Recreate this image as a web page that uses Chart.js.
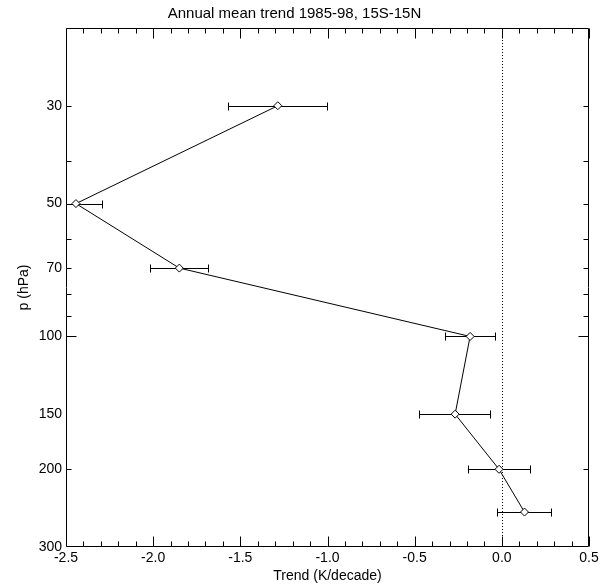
<!DOCTYPE html>
<html>
<head>
<meta charset="utf-8">
<script src="https://cdn.jsdelivr.net/npm/chart.js@4/dist/chart.umd.min.js"></script>
<style>
  html, body { margin: 0; padding: 0; background: #ffffff; }
  #wrap { width: 607px; height: 584px; }
</style>
</head>
<body>
<div id="wrap"><canvas id="c" width="607" height="584"></canvas></div>
<script>
const pressure = [30, 50, 70, 100, 150, 200, 250];
const trend = [-1.285, -2.443, -1.850, -0.182, -0.268, -0.016, 0.130];
const errLow = [-1.571, -2.600, -2.016, -0.326, -0.475, -0.195, -0.026];
const errHigh = [-1.001, -2.292, -1.684, -0.037, -0.066, 0.164, 0.284];
const xTickLabels = [-2.5, -2.0, -1.5, -1.0, -0.5, 0.0, 0.5];
const yTickLabels = [30, 50, 70, 100, 150, 200, 300];
const yMinorTicks = [30, 40, 50, 60, 70, 80, 90, 200];
const yMajorTicks = [100];

const FONT = "'Liberation Sans', Arial, Helvetica, sans-serif";

const decor = {
  id: 'decor',
  beforeDatasetsDraw(chart) {
    const {ctx, chartArea: a, scales: {x, y}} = chart;
    ctx.save();
    ctx.beginPath();
    ctx.rect(a.left, a.top, a.right - a.left, a.bottom - a.top);
    ctx.clip();
    const x0 = Math.round(x.getPixelForValue(0)) + 0.5;
    ctx.strokeStyle = '#000';
    ctx.lineWidth = 1;
    ctx.setLineDash([1, 2]);
    ctx.beginPath();
    ctx.moveTo(x0, a.top);
    ctx.lineTo(x0, a.bottom);
    ctx.stroke();
    ctx.setLineDash([]);
    for (let i = 0; i < pressure.length; i++) {
      const py = Math.round(y.getPixelForValue(pressure[i])) + 0.5;
      const xl = x.getPixelForValue(errLow[i]);
      const xh = x.getPixelForValue(errHigh[i]);
      ctx.beginPath();
      ctx.moveTo(xl, py); ctx.lineTo(xh, py);
      ctx.moveTo(Math.round(xl) + 0.5, py - 4); ctx.lineTo(Math.round(xl) + 0.5, py + 4);
      ctx.moveTo(Math.round(xh) + 0.5, py - 4); ctx.lineTo(Math.round(xh) + 0.5, py + 4);
      ctx.stroke();
    }
    ctx.restore();
  },
  afterDatasetsDraw(chart) {
    const {ctx, chartArea: a, scales: {x, y}} = chart;
    ctx.save();
    ctx.strokeStyle = '#000';
    ctx.lineWidth = 1;
    const L = Math.round(a.left) + 0.5, R = Math.round(a.right) - 0.5;
    const T = Math.round(a.top) + 0.5, B = Math.round(a.bottom) - 0.5;
    ctx.beginPath();
    ctx.rect(L, T, R - L, B - T);
    ctx.stroke();
    ctx.beginPath();
    for (let k = -25; k <= 5; k++) {
      const v = k / 10;
      const px = Math.round(x.getPixelForValue(v)) + 0.5;
      const len = (k % 5 === 0) ? 10 : 5;
      ctx.moveTo(px, B); ctx.lineTo(px, B - len);
      ctx.moveTo(px, T); ctx.lineTo(px, T + len);
    }
    const yt = yMinorTicks.map(v => [v, 5]).concat(yMajorTicks.map(v => [v, 10]));
    for (const [v, len] of yt) {
      const py = Math.round(y.getPixelForValue(v)) + 0.5;
      ctx.moveTo(L, py); ctx.lineTo(L + len, py);
      ctx.moveTo(R, py); ctx.lineTo(R - len, py);
    }
    ctx.stroke();
    ctx.restore();
  }
};

new Chart(document.getElementById('c'), {
  type: 'scatter',
  data: {
    datasets: [{
      data: pressure.map((p, i) => ({x: trend[i], y: p})),
      showLine: true,
      borderColor: '#000',
      borderWidth: 1,
      pointStyle: 'rectRot',
      pointRadius: 4,
      pointBackgroundColor: '#fff',
      pointBorderColor: '#000',
      pointBorderWidth: 1,
      tension: 0
    }]
  },
  options: {
    responsive: false,
    animation: false,
    devicePixelRatio: 1,
    layout: { padding: { left: 0, right: 18, top: 0, bottom: 0 } },
    plugins: {
      legend: { display: false },
      tooltip: { enabled: false },
      title: {
        display: true,
        text: 'Annual mean trend 1985-98, 15S-15N',
        color: '#000',
        font: { family: FONT, size: 15, weight: 'normal', lineHeight: 1.2 },
        padding: { top: 5, bottom: 5 }
      }
    },
    scales: {
      x: {
        type: 'linear',
        min: -2.5, max: 0.5,
        afterBuildTicks: s => { s.ticks = xTickLabels.map(v => ({value: v})); },
        afterFit: s => { s.height = 37; },
        grid: { display: false, drawTicks: false },
        border: { display: false },
        ticks: {
          color: '#000', padding: 3, maxRotation: 0, autoSkip: false,
          font: { family: FONT, size: 14 },
          callback: v => Number(v).toFixed(1)
        },
        title: {
          display: true, text: 'Trend (K/decade)', color: '#000',
          font: { family: FONT, size: 14, lineHeight: 1.2 },
          padding: { top: 0, bottom: -1 }
        }
      },
      y: {
        type: 'logarithmic',
        reverse: true,
        min: 20, max: 300,
        afterBuildTicks: s => { s.ticks = yTickLabels.map(v => ({value: v})); },
        afterFit: s => { s.width = 66; },
        grid: { display: false, drawTicks: false },
        border: { display: false },
        ticks: {
          color: '#000', padding: 4, autoSkip: false,
          font: { family: FONT, size: 14 },
          callback: v => String(v)
        },
        title: {
          display: true, text: 'p (hPa)', color: '#000',
          font: { family: FONT, size: 14, lineHeight: 1.2 },
          padding: { top: 16, bottom: 0 }
        }
      }
    }
  },
  plugins: [decor]
});
</script>
</body>
</html>
